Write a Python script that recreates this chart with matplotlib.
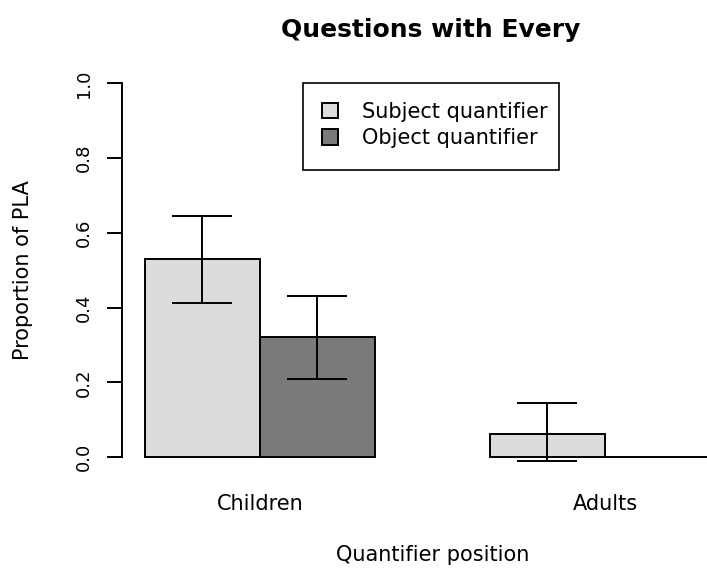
import matplotlib.pyplot as plt
import matplotlib.patches as mpatches
import numpy as np

groups = ["Children", "Adults"]
series = ["Subject quantifier", "Object quantifier"]
subject_mean = [0.529, 0.063]
object_mean = [0.322, 0.0]
subject_lo = [0.411, -0.011]
subject_hi = [0.646, 0.144]
object_lo = [0.208, np.nan]
object_hi = [0.432, np.nan]

colors = ["#dcdcdc", "#7a7a7a"]

plt.rcParams['font.family'] = ['DejaVu Sans']

fig = plt.figure(figsize=(7.07, 5.73), dpi=100)
W, H = 707, 573
# plot region in pixels (extends past the right edge like the original device)
left, right, top, bottom = 121.7, 743, 68.4, 472
ax = fig.add_axes([left / W, 1 - bottom / H, (right - left) / W, (bottom - top) / H])

# bars side by side, width 1, one bar gap between groups
x_sub = np.array([1.5, 4.5])
x_obj = np.array([2.5, 5.5])
ax.bar(x_sub, subject_mean, width=1, color=colors[0], edgecolor="black", linewidth=1.4, label=series[0])
ax.bar(x_obj, object_mean, width=1, color=colors[1], edgecolor="black", linewidth=1.4, label=series[1])

for xs, m, lo, hi in [(x_sub, subject_mean, subject_lo, subject_hi),
                      (x_obj, object_mean, object_lo, object_hi)]:
    m = np.array(m)
    lo = np.array(lo)
    hi = np.array(hi)
    ok = ~np.isnan(lo)
    ax.errorbar(xs[ok], m[ok], yerr=[m[ok] - lo[ok], hi[ok] - m[ok]], fmt="none",
                ecolor="black", elinewidth=1.4, capsize=21.6, capthick=1.4)

ax.set_xlim(0.8, 6.2)
ax.set_ylim(-0.04, 1.04)

for s in ["top", "right", "bottom"]:
    ax.spines[s].set_visible(False)
ax.spines["left"].set_bounds(0, 1)
ax.spines["left"].set_linewidth(1.4)

ax.set_yticks([0, 0.2, 0.4, 0.6, 0.8, 1.0])
ax.set_yticklabels(["0.0", "0.2", "0.4", "0.6", "0.8", "1.0"], rotation=90, va="center", fontsize=13)
ax.tick_params(axis="y", length=10.8, width=1.4, pad=10)

ax.set_xticks([2, 5])
ax.set_xticklabels(groups, fontsize=15)
ax.tick_params(axis="x", length=0, pad=16)

ax.set_xlabel("Quantifier position", fontsize=15, labelpad=22)
ax.set_ylabel("Proportion of PLA", fontsize=15, labelpad=30)
fig.text(431 / W, 1 - 30 / H, "Questions with Every", fontsize=18, fontweight="bold",
         ha="center", va="center")

# legend entries without frame; the box is drawn separately
fig.legend(loc="upper left", bbox_to_anchor=(303 / W, 1 - 83 / H), fontsize=15,
           frameon=False, borderaxespad=0, handlelength=0.8, handleheight=0.8,
           handletextpad=1.15, labelspacing=0.3, borderpad=0.9)
box = mpatches.Rectangle((303 / W, 1 - 170 / H), (559 - 303) / W, (170 - 83) / H,
                         transform=fig.transFigure, fill=False, edgecolor="black", linewidth=1.2)
fig.patches.append(box)

fig.savefig("out.png", dpi=100)
